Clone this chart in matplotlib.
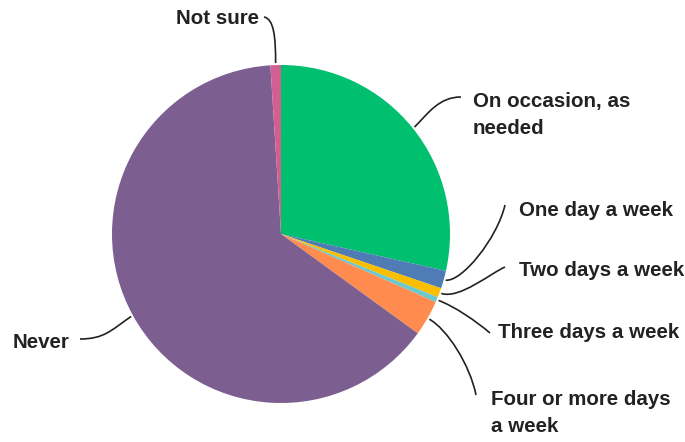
import numpy as np
import matplotlib
matplotlib.use("Agg")
import matplotlib.pyplot as plt
from matplotlib.path import Path
from matplotlib.patches import PathPatch

# How often respondents work this way (share of responses, %)
categories = ["On occasion, as\nneeded", "One day a week", "Two days a week",
              "Three days a week", "Four or more days\na week", "Never", "Not sure"]
shares = [28.5, 1.7, 0.9, 0.5, 3.4, 64.0, 1.0]
colors = ["#00BF6F", "#507CB6", "#F9BE00", "#6BC8CD", "#FF8B4F", "#7D5E90", "#D25F90"]

W, H = 685, 442
CX, CY, R = 281, 234, 169
INK = "#222222"

plt.rcParams["font.family"] = ["Liberation Sans", "DejaVu Sans"]

fig = plt.figure(figsize=(W / 100, H / 100), dpi=100)
ax = fig.add_axes([0, 0, 1, 1])

# y axis runs downward, so theta=-90 is the top and increasing theta goes clockwise
wedges, _ = ax.pie(shares, colors=colors, startangle=-90, counterclock=True,
                   center=(CX, CY), radius=R, wedgeprops=dict(linewidth=0))
ax.set_xlim(0, W)
ax.set_ylim(H, 0)
ax.set_aspect("equal")
ax.axis("off")


def anchor(w, r_off=2):
    th = np.deg2rad((w.theta1 + w.theta2) / 2)
    return np.array([CX + (R + r_off) * np.cos(th), CY + (R + r_off) * np.sin(th)])


# label text position, alignment, leader end point, and bezier handles
labels = [
    # (text pos, ha, line end, start handle, end handle)
    ((473, 115), "left", (461, 97), (14, -14), (-22, 0)),
    ((519, 210), "left", (505, 205), (16, 2), (-8, 34)),
    ((519, 271), "left", (505, 267), (18, 6), (-14, 6)),
    ((498, 333), "left", (490, 333), (16, 6), (-14, -12)),
    ((491, 413), "left", (476, 395), (18, 10), (-6, -30)),
    ((13, 342), "left", (80, 339), (-20, 14), (24, 0)),
    ((176, 18), "left", (264, 17), (0, -26), (10, 2)),
]

for w, name, (tpos, ha, end, h0, h1) in zip(wedges, categories, labels):
    p0 = anchor(w)
    p3 = np.array(end, dtype=float)
    verts = [p0, p0 + h0, p3 + h1, p3]
    path = Path(verts, [Path.MOVETO, Path.CURVE4, Path.CURVE4, Path.CURVE4])
    ax.add_patch(PathPatch(path, fill=False, edgecolor=INK, lw=1.2))
    ax.text(tpos[0], tpos[1], name, ha=ha, va="center", fontsize=14.8,
            fontweight="bold", color=INK, linespacing=1.5)

fig.savefig("out.png", dpi=100, facecolor="white")
